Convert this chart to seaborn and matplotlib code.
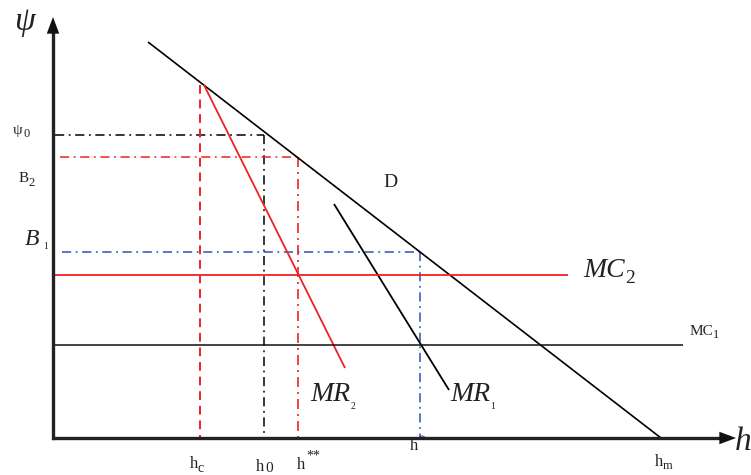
import matplotlib
matplotlib.use("Agg")
import matplotlib.pyplot as plt
import seaborn as sns
import numpy as np

sns.set_style("white")
plt.rcParams['font.family'] = ['Liberation Serif', 'DejaVu Serif']

# ---- data (h, psi); origin at axes corner ----
D_h = [95, 608]
D_psi = [396, 0]
MR2_h = [151, 292]
MR2_psi = [353, 70]
MR1_h = [281, 396]
MR1_psi = [234, 48]
MC2_h = [0, 515]
MC2_psi = [163, 163]
MC1_h = [0, 630]
MC1_psi = [93, 93]

psi0, h0 = 303, 211
B2, h_ss = 281, 245
B1, h_s = 186, 367
hc, hc_top = 147, 353
hm = 608

fig = plt.figure(figsize=(7.51, 4.75), dpi=100)
ax = fig.add_axes([0, 0, 1, 1])
ax.set_xlim(-53, 698)
ax.set_ylim(-37, 438)
ax.axis('off')

def seg(x, y, color, lw, dashes=None):
    sns.lineplot(x=x, y=y, ax=ax, color=color, lw=lw, sort=False,
                 estimator=None, legend=False)
    line = ax.lines[-1]
    if dashes is not None:
        line.set_dashes(dashes)
    line.set_solid_capstyle('butt')
    line.set_dash_capstyle('butt')

red = '#ee2222'
blue = '#2a55b0'
dd = (6, 3, 1.2, 3)

# reference lines
seg([2, h0], [psi0, psi0], 'black', 1.1, dashes=dd)
seg([h0, h0], [psi0, 0], 'black', 1.1, dashes=dd)
seg([7, h_ss], [B2, B2], red, 1.1, dashes=dd)
seg([h_ss, h_ss], [B2, 0], red, 1.2, dashes=dd)
seg([9, h_s], [B1, B1], blue, 1.1, dashes=dd)
seg([h_s, h_s], [B1, 0], blue, 1.1, dashes=dd)
seg([hc, hc], [hc_top, 0], red, 1.4, dashes=(4.5, 3))

# curves
seg(D_h, D_psi, 'black', 1.2)
seg(MR2_h, MR2_psi, red, 1.3)
seg(MR1_h, MR1_psi, 'black', 1.3)
seg(MC2_h, MC2_psi, red, 1.3)
seg(MC1_h, MC1_psi, '#111111', 1.1)

# axes with arrows
ax.plot([0, 0], [0, 406], color='#222222', lw=2.4, solid_capstyle='projecting')
ax.plot([-1, 668], [0, 0], color='#222222', lw=2.4, solid_capstyle='butt')
ax.annotate('', xy=(0, 421), xytext=(0, 403),
            arrowprops=dict(arrowstyle='-|>,head_length=1.2,head_width=0.45',
                            color='#111111', lw=0, shrinkA=0, shrinkB=0))
ax.annotate('', xy=(683, 0), xytext=(665, 0),
            arrowprops=dict(arrowstyle='-|>,head_length=1.2,head_width=0.45',
                            color='#111111', lw=0, shrinkA=0, shrinkB=0))

fam = ['Liberation Serif', 'DejaVu Serif']
def t(x, y, s, size, style='normal', ha='left', va='baseline', color='#222222'):
    ax.text(x, y, s, fontsize=size, style=style, ha=ha, va=va, color=color,
            family=fam)

# axis titles
t(-39, 408, 'ψ', 24, 'italic')
t(682, -12, 'h', 24, 'italic')

# y labels
t(-40, 304, 'ψ', 11)
t(-30, 301, '0', 9)
t(-34, 256, 'B', 11)
t(-25, 252, '2', 9)
t(-28, 193, 'B', 17, 'italic')
t(-10, 189, '1', 7)

# curve labels
t(330, 251, 'D', 14)
t(530, 161, 'MC', 20, 'italic')
t(572, 155, '2', 14)
t(637, 103, 'MC', 11)
t(660, 100, '1', 9)
t(257, 37, 'MR', 20, 'italic')
t(298, 29, '2', 7)
t(397, 37, 'MR', 20, 'italic')
t(437, 29, '1', 7)

# h labels
t(137, -30, 'h', 12)
t(145, -34, 'c', 10)
t(203, -33, 'h', 12)
t(212, -34, '0', 11)
t(244, -31, 'h', 12)
t(253, -22, '**', 10)
t(357, -12, 'h', 12)
t(365, -4, '*', 9)
t(602, -28, 'h', 12)
t(610, -31, 'm', 9)

fig.savefig('out.png', dpi=100)
